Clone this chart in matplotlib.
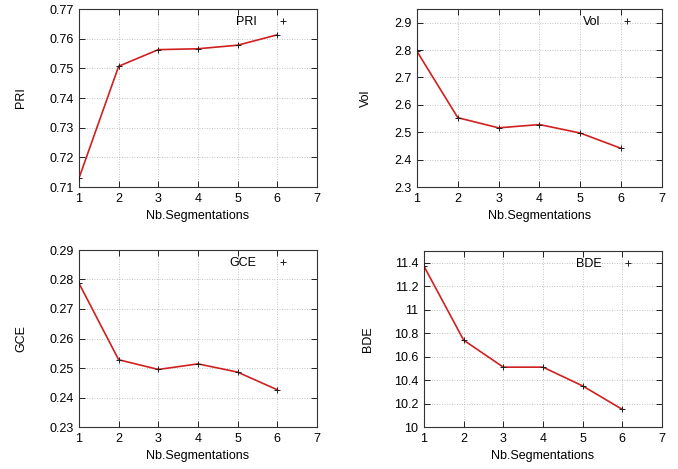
import matplotlib
matplotlib.use('Agg')
from matplotlib import pyplot as plt
from matplotlib.lines import Line2D
import numpy as np

plt.rcParams['font.family'] = ['Liberation Sans', 'DejaVu Sans']
plt.rcParams['font.size'] = 9

segments = [1, 2, 3, 4, 5, 6]
pri = [0.713, 0.7507, 0.7563, 0.7566, 0.7578, 0.7613]
vol = [2.795, 2.553, 2.516, 2.528, 2.497, 2.441]
gce = [0.2787, 0.2528, 0.2495, 0.2514, 0.2486, 0.2426]
bde = [11.37, 10.74, 10.51, 10.51, 10.35, 10.15]

x_ticks = [1, 2, 3, 4, 5, 6, 7]

# (name, values, ylim, yticks, ticklabels, axes box in pixels: left, top, right, bottom, ylabel x)
panels = [
    ('PRI', pri, (0.71, 0.77), [0.71, 0.72, 0.73, 0.74, 0.75, 0.76, 0.77],
     ['0.71', '0.72', '0.73', '0.74', '0.75', '0.76', '0.77'], (79, 9, 317, 187, 20)),
    ('Vol', vol, (2.3, 2.95), [2.3, 2.4, 2.5, 2.6, 2.7, 2.8, 2.9],
     ['2.3', '2.4', '2.5', '2.6', '2.7', '2.8', '2.9'], (417, 9, 662, 187, 365)),
    ('GCE', gce, (0.23, 0.29), [0.23, 0.24, 0.25, 0.26, 0.27, 0.28, 0.29],
     ['0.23', '0.24', '0.25', '0.26', '0.27', '0.28', '0.29'], (79, 250, 317, 427, 20)),
    ('BDE', bde, (10.0, 11.5), [10.0, 10.2, 10.4, 10.6, 10.8, 11.0, 11.2, 11.4],
     ['10', '10.2', '10.4', '10.6', '10.8', '11', '11.2', '11.4'], (424, 251, 662, 427, 367)),
]

W, H = 678, 469
fig = plt.figure(figsize=(W / 100, H / 100), dpi=100)

for name, values, ylim, yticks, ylabels, box in panels:
    left, top, right, bottom, lab_x = box
    ax = fig.add_axes([left / W, 1 - bottom / H, (right - left) / W, (bottom - top) / H])
    ax.plot(segments, values, color='#d02020', lw=1.2, zorder=3)
    ax.plot(segments, values, ls='none', marker='+', color='#202020', ms=4, mew=0.7, zorder=4)
    ax.set_xlim(1, 7)
    ax.set_ylim(*ylim)
    ax.set_xticks(x_ticks)
    ax.set_yticks(yticks)
    ax.set_yticklabels(ylabels)
    ax.grid(True, color='#b0b0b0', ls=(0, (1, 2)), lw=0.6)
    ax.tick_params(direction='in', top=True, right=True, length=4, width=0.6, pad=4)
    for s in ax.spines.values():
        s.set_linewidth(0.8)
        s.set_color('#333333')
    ax.set_xlabel('Nb.Segmentations', labelpad=4)
    ax.set_ylabel(name)
    ax.yaxis.set_label_coords((lab_x + 7 - left) / (right - left), 0.5)
    # legend: text then marker, placed near top right like gnuplot key
    handle = Line2D([], [], ls='none', marker='+', color='#202020', ms=4, mew=0.7)
    marker_x = (283 - 79) / 238 * (right - left) + left
    anchor_x = (marker_x + 6 - left) / (right - left)
    anchor_y = 1 - 13 / (bottom - top)
    ax.legend([handle], [name], loc='center right', bbox_to_anchor=(anchor_x, anchor_y),
              frameon=False, markerfirst=False, handlelength=1.0, borderaxespad=0,
              borderpad=0, handletextpad=1.6)

fig.savefig('out.png', dpi=100)
